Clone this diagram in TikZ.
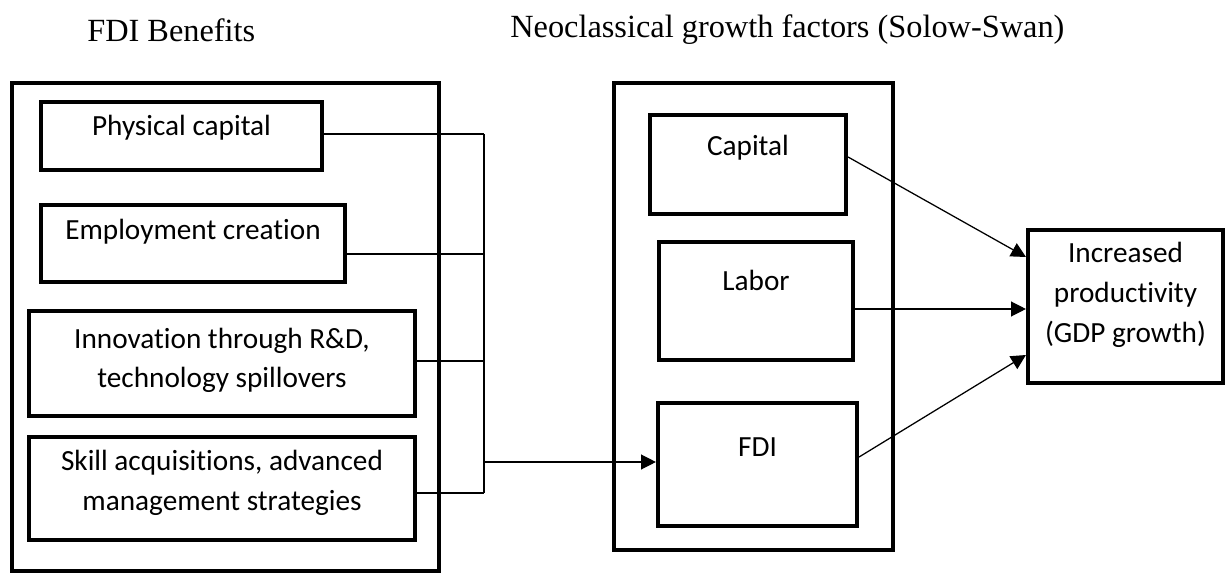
\documentclass[tikz,border=0pt]{standalone}
\usepackage{fontspec}
\setmainfont{Carlito}[Ligatures={NoCommon,NoRequired}, Contextuals=NoAlternate]
\newfontfamily\headfont{Liberation Serif}
\usepackage{tikz}
\usetikzlibrary{arrows.meta}
\newcommand{\lift}[2]{\raisebox{#1}[\height][\depth]{\begin{tabular}{@{}c@{}}#2\end{tabular}}}

\begin{document}
\begin{tikzpicture}[
  x=0.025cm, y=-0.025cm,
  font=\fontsize{20.8}{28.4}\selectfont,
  frame/.style={draw, line width=2.9pt, inner sep=0pt},
  factor/.style={draw, line width=2.9pt, inner sep=0pt},
  head/.style={anchor=west, inner sep=0pt, font=\headfont\fontsize{23}{28}\selectfont},
  wire/.style={line width=0.9pt},
  link/.style={line width=0.9pt, -{Triangle[length=10.5pt,width=10.5pt]}}
]
  \useasboundingbox (0,0) rectangle (1228,576);

  \node[frame, minimum width=10.675cm, minimum height=12.2cm] (benefits) at (225.5,327) {};
  \node[frame, minimum width=6.975cm, minimum height=11.675cm] (solow) at (753.5,316.5) {};
  \node[head] (benefitshead) at (87,30) {FDI Benefits};
  \node[head] (solowhead) at (510,30) {Neoclassical growth factors (Solow-Swan)};

  \node[factor, minimum width=7.025cm, minimum height=1.7cm] (phys) at (181.5,136)
        {\lift{5.7pt}{Physical capital}};
  \node[factor, minimum width=7.6cm, minimum height=1.925cm] (emp) at (193,243.5)
        {\lift{8.2pt}{Employment creation}};
  \node[factor, minimum width=9.65cm, minimum height=2.625cm] (innov) at (222,363.5)
        {\lift{2.5pt}{Innovation through R\&D,\\technology spillovers}};
  \node[factor, minimum width=9.65cm, minimum height=2.575cm] (skill) at (222,488.5)
        {\lift{4pt}{Skill acquisitions, advanced\\management strategies}};

  \node[factor, minimum width=4.9cm, minimum height=2.475cm] (cap) at (748,164.5)
        {\lift{12.4pt}{Capital}};
  \node[factor, minimum width=4.85cm, minimum height=2.95cm] (labor) at (756,301)
        {\lift{12.8pt}{Labor}};
  \node[factor, minimum width=4.975cm, minimum height=3.075cm] (fdi) at (757.5,464.5)
        {\lift{11.7pt}{FDI}};
  \node[factor, minimum width=4.875cm, minimum height=3.825cm] (growth) at (1125.5,306.5)
        {\lift{8.5pt}{Increased\\productivity\\(GDP growth)}};

  \coordinate (j1) at (484,134);
  \coordinate (j2) at (484,254);
  \coordinate (j3) at (484,361);
  \coordinate (j4) at (484,493);
  \coordinate (j5) at (484,462);

  \draw[wire] (phys.east |- j1) -- (j1);
  \draw[wire] (emp.east |- j2) -- (j2);
  \draw[wire] (innov.east |- j3) -- (j3);
  \draw[wire] (skill.east |- j4) -- (j4);
  \draw[wire] (j1) -- (j4);
  \draw[link] (j5) -- (fdi.west |- j5);

  \draw[link] (cap.east |- 0,157) -- (growth.west |- 0,257);
  \draw[link] (labor.east |- 0,309) -- (growth.west |- 0,309);
  \draw[link] (fdi.east |- 0,457) -- (growth.west |- 0,355);
\end{tikzpicture}
\end{document}
